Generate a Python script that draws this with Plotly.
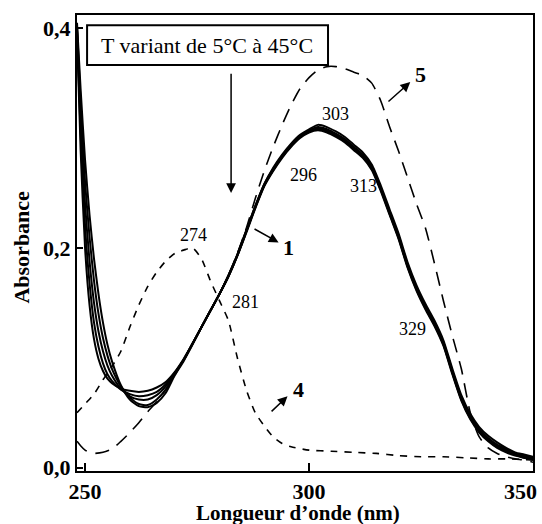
import plotly.graph_objects as go

# ---------------- data ----------------
wl_solid = [248.2, 249, 250, 251, 252, 253, 254, 255, 256, 258, 260, 262, 264, 266, 268,
            270, 272, 274, 276, 278, 280, 282, 284, 286, 288, 290, 292, 294, 296, 298,
            300, 302, 304, 306, 308, 310, 312, 314, 316, 318, 320, 322, 324, 326, 328,
            330, 332, 334, 336, 338, 340, 342, 344, 346, 348, 350]

abs_T1 = [0.395, 0.290, 0.200, 0.148, 0.117, 0.099, 0.088, 0.081, 0.077, 0.072, 0.070, 0.069, 0.070, 0.073, 0.078,
          0.087, 0.099, 0.113, 0.128, 0.143, 0.158, 0.174, 0.193, 0.214, 0.236, 0.256, 0.270, 0.282, 0.292, 0.300,
          0.305, 0.307, 0.305, 0.301, 0.296, 0.289, 0.282, 0.271, 0.252, 0.230, 0.208, 0.182, 0.161, 0.144, 0.129,
          0.111, 0.085, 0.061, 0.044, 0.032, 0.024, 0.018, 0.014, 0.011, 0.009, 0.007]
abs_T2 = [0.398, 0.305, 0.220, 0.168, 0.132, 0.110, 0.095, 0.085, 0.079, 0.071, 0.067, 0.065, 0.066, 0.069, 0.076,
          0.086, 0.098, 0.113, 0.128, 0.143, 0.158, 0.174, 0.193, 0.215, 0.237, 0.257, 0.271, 0.283, 0.293, 0.301,
          0.306, 0.308, 0.306, 0.302, 0.297, 0.290, 0.283, 0.272, 0.253, 0.231, 0.209, 0.183, 0.162, 0.145, 0.130,
          0.112, 0.086, 0.062, 0.045, 0.033, 0.025, 0.019, 0.015, 0.012, 0.009, 0.008]
abs_T3 = [0.400, 0.318, 0.240, 0.188, 0.150, 0.124, 0.106, 0.093, 0.084, 0.072, 0.065, 0.062, 0.062, 0.066, 0.074,
          0.086, 0.098, 0.113, 0.128, 0.143, 0.158, 0.174, 0.193, 0.215, 0.237, 0.257, 0.271, 0.283, 0.293, 0.301,
          0.306, 0.309, 0.307, 0.303, 0.298, 0.291, 0.284, 0.273, 0.254, 0.232, 0.210, 0.184, 0.163, 0.146, 0.131,
          0.113, 0.087, 0.063, 0.046, 0.034, 0.026, 0.020, 0.016, 0.012, 0.010, 0.008]
abs_T4 = [0.402, 0.332, 0.260, 0.210, 0.170, 0.140, 0.118, 0.102, 0.090, 0.074, 0.064, 0.058, 0.057, 0.062, 0.071,
          0.085, 0.098, 0.113, 0.128, 0.143, 0.158, 0.175, 0.194, 0.216, 0.238, 0.258, 0.272, 0.284, 0.294, 0.302,
          0.307, 0.310, 0.308, 0.304, 0.299, 0.292, 0.285, 0.274, 0.255, 0.233, 0.211, 0.185, 0.164, 0.147, 0.132,
          0.114, 0.088, 0.064, 0.047, 0.035, 0.027, 0.021, 0.017, 0.013, 0.011, 0.009]
abs_T5 = [0.405, 0.345, 0.280, 0.230, 0.190, 0.158, 0.132, 0.112, 0.097, 0.075, 0.062, 0.056, 0.055, 0.059, 0.068,
          0.084, 0.097, 0.112, 0.128, 0.143, 0.158, 0.175, 0.194, 0.216, 0.238, 0.258, 0.273, 0.285, 0.295, 0.303,
          0.308, 0.312, 0.310, 0.306, 0.301, 0.294, 0.287, 0.276, 0.257, 0.235, 0.213, 0.187, 0.166, 0.149, 0.134,
          0.116, 0.090, 0.066, 0.049, 0.037, 0.029, 0.023, 0.018, 0.014, 0.012, 0.010]

wl_4 = [248.2, 250, 252, 254, 256, 258, 260, 262, 264, 266, 268, 270, 272, 274, 276, 278, 280, 282,
        284, 286, 288, 290, 292, 294, 296, 300, 305, 310, 315, 320, 325, 330, 335, 340, 345, 350]
abs_4 = [0.050, 0.058, 0.067, 0.080, 0.092, 0.106, 0.128, 0.148, 0.165, 0.178, 0.188, 0.195, 0.198, 0.200,
         0.190, 0.170, 0.152, 0.134, 0.100, 0.071, 0.050, 0.038, 0.028, 0.022, 0.019, 0.016, 0.015, 0.014,
         0.013, 0.011, 0.010, 0.010, 0.009, 0.008, 0.008, 0.007]

wl_5 = [248.2, 249, 250, 251, 252, 254, 256, 258, 260, 262, 264, 266, 268, 270, 272, 274, 276, 278,
        280, 282, 284, 286, 288, 290, 292, 294, 296, 298, 300, 302, 304, 306, 308, 310, 312, 314, 316,
        318, 320, 322, 324, 326, 328, 330, 332, 334, 336, 338, 340, 342, 344, 346, 348, 350]
abs_5 = [0.024, 0.020, 0.016, 0.014, 0.013, 0.014, 0.017, 0.024, 0.032, 0.041, 0.051, 0.060, 0.071, 0.084,
         0.098, 0.113, 0.128, 0.143, 0.158, 0.175, 0.195, 0.218, 0.245, 0.270, 0.292, 0.312, 0.330, 0.345,
         0.355, 0.362, 0.365, 0.365, 0.363, 0.360, 0.357, 0.350, 0.334, 0.310, 0.288, 0.264, 0.240, 0.218,
         0.186, 0.152, 0.120, 0.090, 0.050, 0.028, 0.018, 0.013, 0.010, 0.008, 0.007, 0.005]

x_tick_vals = [250, 300, 350]
x_tick_text = ["250", "300", "350"]
y_tick_vals = [0.0, 0.2, 0.4]

peak_labels = ["274", "281", "296", "303", "313", "329"]
curve_labels = ["1", "4", "5"]
box_text = "T variant de 5°C à 45°C"
x_title = "Longueur d’onde (nm)"
y_title = "Absorbance"

# ---------------- figure ----------------
SERIF = "Liberation Serif"
fig = go.Figure()

for arr in [abs_T1, abs_T2, abs_T3, abs_T4, abs_T5]:
    fig.add_trace(go.Scatter(x=wl_solid, y=arr, mode="lines",
                             line=dict(color="black", width=2, shape="spline", smoothing=0.6),
                             showlegend=False, hoverinfo="skip"))

fig.add_trace(go.Scatter(x=wl_4, y=abs_4, mode="lines",
                         line=dict(color="black", width=1.6, dash="7px,7px", shape="spline", smoothing=0.6),
                         showlegend=False, hoverinfo="skip"))
fig.add_trace(go.Scatter(x=wl_5, y=abs_5, mode="lines",
                         line=dict(color="black", width=1.6, dash="14px,9px", shape="spline", smoothing=0.6),
                         showlegend=False, hoverinfo="skip"))

ann = []
small = dict(family=SERIF, size=18, color="black")
big = dict(family=SERIF, size=22, color="black", weight="bold")
title_font = dict(family=SERIF, size=21, color="black", weight="bold")

label_pos = [(274.1, 0.212), (285.9, 0.151), (298.7, 0.266), (305.8, 0.322), (312.1, 0.256), (323.2, 0.126)]
for t, (xx, yy) in zip(peak_labels, label_pos):
    ann.append(dict(x=xx, y=yy, text=t, showarrow=False, font=small, xanchor="center", yanchor="middle"))

num_pos = [(295.4, 0.200), (297.6, 0.071), (324.9, 0.358)]
for t, (xx, yy) in zip(curve_labels, num_pos):
    ann.append(dict(x=xx, y=yy, text=t, showarrow=False, font=big, xanchor="center", yanchor="middle"))

arrows = [((287.5, 0.218), (293.2, 0.205)),
          ((291.3, 0.050), (295.2, 0.065)),
          ((317.4, 0.332), (322.6, 0.351)),
          ((282.6, 0.360), (282.6, 0.250))]
for (tx, ty), (hx, hy) in arrows:
    ann.append(dict(x=hx, y=hy, ax=tx, ay=ty, axref="x", ayref="y", xref="x", yref="y",
                    text="", showarrow=True, arrowhead=2, arrowsize=1.3, arrowwidth=1.5,
                    arrowcolor="black", standoff=0, startstandoff=0))

ann.append(dict(x=277.3, y=0.3845, text=box_text, showarrow=False,
                font=dict(family=SERIF, size=22, color="black"), xanchor="center", yanchor="middle"))

ann.append(dict(x=x_tick_vals[2], y=0, xref="x", yref="paper", text=x_tick_text[2], showarrow=False,
                font=big, xanchor="right", yanchor="top", xshift=6, yshift=-6))

# axis titles
ann.append(dict(x=0.484, y=-0.0925, xref="paper", yref="paper", text=x_title, showarrow=False,
                font=title_font, xanchor="center", yanchor="middle"))
ann.append(dict(x=-0.1206, y=0.49, xref="paper", yref="paper", text=y_title, showarrow=False,
                font=big, textangle=-90, xanchor="center", yanchor="middle"))

fig.update_layout(
    template="none",
    width=542, height=524,
    margin=dict(l=77, r=9, t=15, b=53),
    paper_bgcolor="white", plot_bgcolor="white",
    separators=",.",
    annotations=ann,
    shapes=[dict(type="rect", xref="x", yref="y", x0=250.45, x1=304.24, y0=0.3664, y1=0.4027,
                 line=dict(color="black", width=2), fillcolor="white", layer="below")],
    xaxis=dict(range=[248.2, 350], tickvals=x_tick_vals, ticktext=[x_tick_text[0], x_tick_text[1], ""],
               showline=True, mirror=True, linecolor="black", linewidth=2, automargin=False,
               ticks="inside", ticklen=8, tickwidth=1.5, tickcolor="black",
               showgrid=False, zeroline=False, tickfont=big),
    yaxis=dict(range=[-0.003, 0.412], tickvals=y_tick_vals, tickformat=".1f",
               showline=True, mirror=True, linecolor="black", linewidth=2, automargin=False,
               ticks="inside", ticklen=6, tickwidth=1.5, tickcolor="black",
               showgrid=False, zeroline=False, tickfont=big),
)

fig.write_html("out.html", config={"displayModeBar": False},
               post_script="document.body.style.margin='0';document.body.style.padding='0';")
